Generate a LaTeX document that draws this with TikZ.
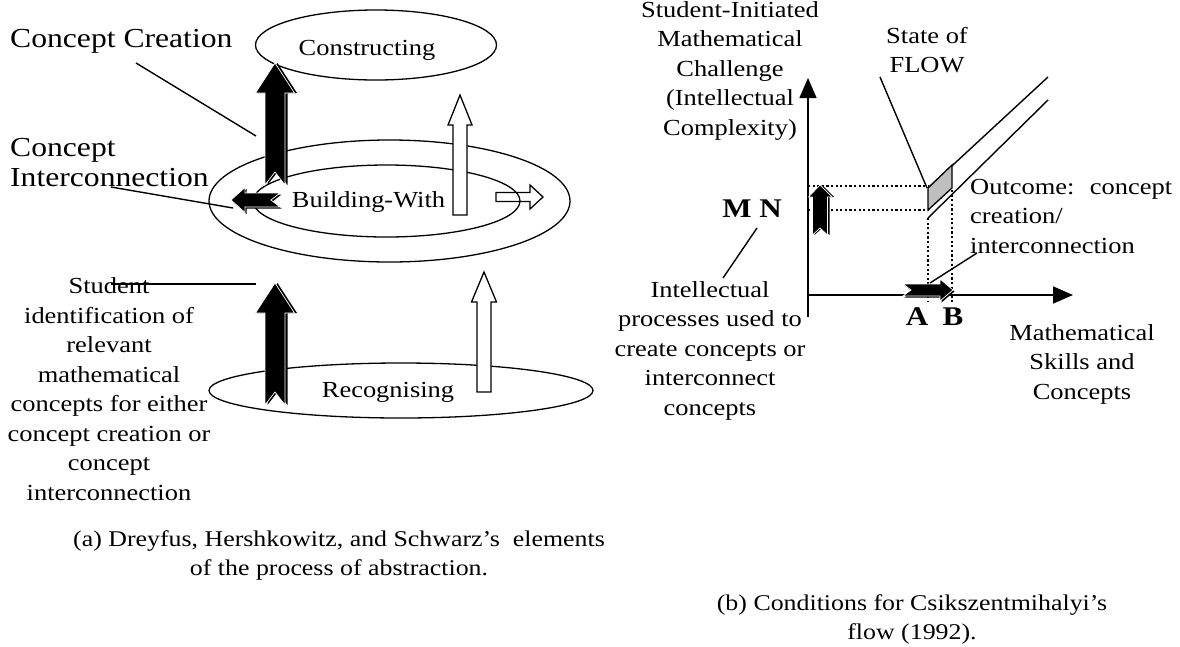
\documentclass[tikz,border=0pt]{standalone}
\usepackage{fontspec}
\setmainfont{Liberation Serif}[FakeStretch=1.15]
\usetikzlibrary{shapes.geometric,arrows.meta}
\begin{document}
\begin{tikzpicture}[x=1pt,y=-1pt,
  txt/.style={inner sep=0pt, align=center, font=\fontsize{23}{29.5}\selectfont},
  captxt/.style={inner sep=0pt, align=center, font=\fontsize{22.5}{29}\selectfont},
  bigtxt/.style={inner sep=0pt, align=left, font=\fontsize{27.5}{30}\selectfont},
  boldtxt/.style={inner sep=0pt, font=\fontsize{27}{30}\selectfont\bfseries},
  ell/.style={draw, ellipse, inner sep=0pt, line width=1.3pt},
  ptr/.style={line width=1.4pt},
  wht/.style={fill=white, draw=black, line width=1.3pt, line join=miter},
  whtopen/.style={draw=black, line width=1.3pt, line join=miter},
  dotl/.style={line width=2.2pt, dash pattern=on 2.2pt off 2.4pt},
  axisline/.style={line width=1.5pt, -{Triangle[length=20pt,width=17pt]}},
  flowfill/.style={fill=black!25, draw=black, line width=1.3pt},
  shadowpart/.style={fill=black},
  mainpart/.style={fill=black, draw=white, line width=0.7pt, line join=miter},
  blkup/.pic={\path[pic actions] (0,0) -- (19.5,30) -- (10,30) -- (10,122) -- (0,109) -- (-10,122) -- (-10,30) -- (-19.5,30) -- cycle;},
  blkupsmall/.pic={\path[pic actions] (0,0) -- (12,12) -- (7.5,12) -- (7.5,50) -- (0,43) -- (-7.5,50) -- (-7.5,12) -- (-11.5,12) -- cycle;},
  blkleft/.pic={\path[pic actions] (0,0) -- (14,-12.5) -- (14,-7) -- (49,-7) -- (40,0) -- (49,7) -- (14,7) -- (14,12.5) -- cycle;},
  blkright/.pic={\path[pic actions] (0,0) -- (-13,-11) -- (-13,-6) -- (-50,-6) -- (-42,0) -- (-50,6) -- (-13,6) -- (-13,11) -- cycle;},
]
\useasboundingbox (0,0) rectangle (1180,646);

% ---------------- (a) left diagram ----------------
\node[ell, minimum width=241pt, minimum height=70pt] (constr) at (376,45) {};
\node[ell, minimum width=361pt, minimum height=122pt] (outer) at (389.5,201) {};
\node[ell, minimum width=267pt, minimum height=72pt] (inner) at (386.5,201) {};
\node[ell, minimum width=384pt, minimum height=55pt] (recog) at (401,390.5) {};

\node[txt, anchor=base] (constrT) at (367,55) {Constructing};
\node[txt, anchor=base] (bwT) at (368.5,207) {Building-With};
\node[txt, anchor=base] (recT) at (388,397) {Recognising};

% black block arrows (with offset shadow)
\pic[shadowpart, shift={(2.5,0)}] at (275,63) {blkup};
\pic[mainpart] at (275,63) {blkup};
\pic[shadowpart, shift={(2.5,0)}] at (275,283) {blkup};
\pic[mainpart] at (275,283) {blkup};
\pic[shadowpart, shift={(1.5,1.5)}] at (231,200) {blkleft};
\pic[mainpart] at (231,200) {blkleft};

% white block arrows
\path[wht] (460,95) -- (472,125) -- (467,125) -- (467,215) -- (453,215) -- (453,125) -- (448,125) -- cycle;
\path[wht] (484,272) -- (496.5,302) -- (491,302) -- (491,392) -- (477,392) -- (477,302) -- (471.5,302) -- cycle;
\path[whtopen] (543,197) -- (530,185) -- (530,192.5) -- (496,192.5) -- (496,201.5) -- (530,201.5) -- (530,209) -- cycle;

% labels and pointers
\node[bigtxt, anchor=base west] (cc) at (10,47) {Concept Creation};
\node[bigtxt, anchor=north west] (ci) at (10,138.5) {Concept\\Interconnection};
\node[txt, anchor=north] (stud) at (109,277.5) {Student\\identification of\\relevant\\mathematical\\concepts for either\\concept creation or\\concept\\interconnection};

\coordinate (ccA) at (136,63);   \coordinate (ccB) at (256,136);
\coordinate (ciA) at (111,187);  \coordinate (ciB) at (233,208);
\coordinate (stA) at (111,284);  \coordinate (stB) at (256,284);
\draw[ptr] (ccA) -- (ccB);
\draw[ptr] (ciA) -- (ciB);
\draw[ptr] (stA) -- (stB);

\node[captxt, anchor=north] (capa) at (339,530) {(a) Dreyfus, Hershkowitz, and Schwarz’s\ \ elements\\of the process of abstraction.};

% ---------------- (b) right diagram ----------------
\coordinate (yb) at (808,317);
\coordinate (yt) at (808,78);
\coordinate (xl) at (808,295);
\coordinate (xr) at (1073,295);
\draw[axisline] (yb) -- (yt);
\draw[axisline] (xl) -- (xr);

% dotted guides
\coordinate (m1) at (808,186); \coordinate (m2) at (928,186);
\coordinate (n1) at (808,210); \coordinate (n2) at (928,210);
\coordinate (a1) at (928,218); \coordinate (a2) at (928,302);
\coordinate (b1) at (952,190); \coordinate (b2) at (952,302);
\draw[dotl] (m1) -- (m2);
\draw[dotl] (n1) -- (n2);
\draw[dotl] (a1) -- (a2);
\draw[dotl] (b1) -- (b2);

% flow channel
\coordinate (u1) at (928,188); \coordinate (u2) at (1048,77);
\coordinate (l1) at (928,218); \coordinate (l2) at (1048,100);
\draw[ptr] (u1) -- (u2);
\draw[ptr] (l1) -- (l2);
\path[flowfill] (928,188) -- (952,165) -- (952,188) -- (928,210) -- cycle;

% small black arrows
\pic[shadowpart, shift={(2,0)}] at (820,185) {blkupsmall};
\pic[mainpart] at (820,185) {blkupsmall};
\pic[shadowpart, shift={(1.5,1.5)}] at (953,290) {blkright};
\pic[mainpart] at (953,290) {blkright};

% texts
\node[txt, anchor=north] (sii) at (730,1) {Student-Initiated\\Mathematical\\Challenge\\(Intellectual\\Complexity)};
\node[txt, anchor=north] (sof) at (927,27) {State of\\FLOW};
\node[txt, anchor=north west, align=left] (out) at (970,179) {\makebox[202pt]{Outcome:\hfill concept}\\creation/\\interconnection};
\node[boldtxt, anchor=base] (mn) at (752,217) {M N};
\node[txt, anchor=north] (ip) at (710,281) {Intellectual\\processes used to\\create concepts or\\interconnect\\concepts};
\node[boldtxt, anchor=base] (A) at (917,325) {A};
\node[boldtxt, anchor=base] (B) at (953,325) {B};
\node[txt, anchor=north] (msc) at (1082,324) {Mathematical\\Skills and\\Concepts};

\coordinate (sfA) at (880,77);  \coordinate (sfB) at (927,188);
\coordinate (ocA) at (977,253); \coordinate (ocB) at (930,283);
\coordinate (mnA) at (757,228); \coordinate (mnB) at (723,278);
\draw[ptr] (sfA) -- (sfB);
\draw[ptr] (ocA) -- (ocB);
\draw[ptr] (mnA) -- (mnB);

\node[captxt, anchor=north] (capb) at (912,594) {(b) Conditions for Csikszentmihalyi’s\\flow (1992).};
\end{tikzpicture}
\end{document}
